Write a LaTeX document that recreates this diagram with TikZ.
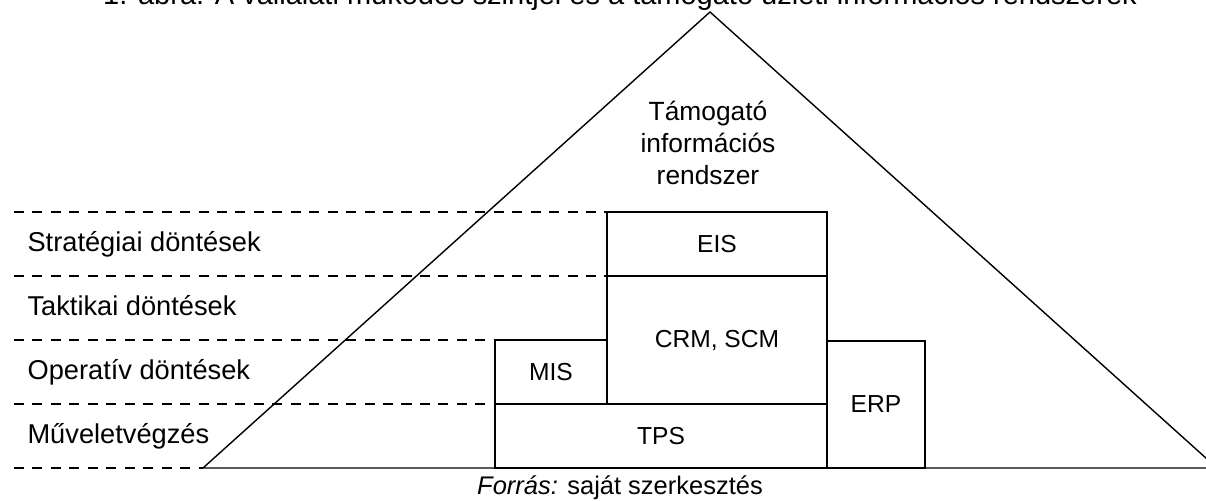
\documentclass[tikz,border=0pt]{standalone}
\usepackage{fontspec}
\setmainfont{Liberation Sans}
\usepackage{tikz}
\usetikzlibrary{calc}
\tikzset{
    layerline/.style={dash pattern=on 5.7pt off 4.8pt},
    boxtext/.style={font=\fontsize{14}{16}\selectfont},
    leveltext/.style={anchor=base west,font=\fontsize{15.5}{18}\selectfont}
}
\newcommand\sysbox[6]{
    \draw (#1,#2) rectangle (#3,#4);
    \node[boxtext] (#5) at ($(#1,#2)!0.5!(#3,#4)$) {#6};
}
\begin{document}
\begin{tikzpicture}[line width=0.8pt]
            \useasboundingbox (0,0) rectangle (24.12,10.02);
            \node[anchor=base,font=\fontsize{16.5}{19}\selectfont] (title) at (12.4,9.93)
                {1. ábra: A vállalati működés szintjei és a támogató üzleti információs rendszerek};
            \draw (4.06,0.66) -- (14.2,9.78) -- (24.34,0.66) -- cycle;
            \foreach \y/\xe in {5.78/12.14, 4.5/12.14, 3.22/9.9, 1.94/9.9, 0.66/4.06}
                \draw[layerline] (0.28,\y) -- (\xe,\y);
            \node[leveltext] (strat) at (0.42,4.98) {Stratégiai döntések};
            \node[leveltext] (takt)  at (0.42,3.70) {Taktikai döntések};
            \node[leveltext] (oper)  at (0.42,2.42) {Operatív döntések};
            \node[leveltext] (muv)   at (0.42,1.14) {Műveletvégzés};
            \sysbox{12.14}{5.78}{16.54}{4.5}{eis}{EIS}
            \sysbox{12.14}{4.5}{16.54}{1.94}{crm}{CRM, SCM}
            \sysbox{9.9}{3.22}{12.14}{1.94}{mis}{MIS}
            \sysbox{9.9}{1.94}{16.54}{0.66}{tps}{TPS}
            \sysbox{16.54}{3.2}{18.5}{0.66}{erp}{ERP}
            \node[align=center,font=\fontsize{15}{18.4}\selectfont] (tamogato) at (14.16,7.16)
                {Támogató\\információs\\rendszer};
            \node[anchor=base,font=\fontsize{14.5}{17}\selectfont] (forras) at (12.4,0.12)
                {\textit{Forrás:} saját szerkesztés};
        \end{tikzpicture}
\end{document}
